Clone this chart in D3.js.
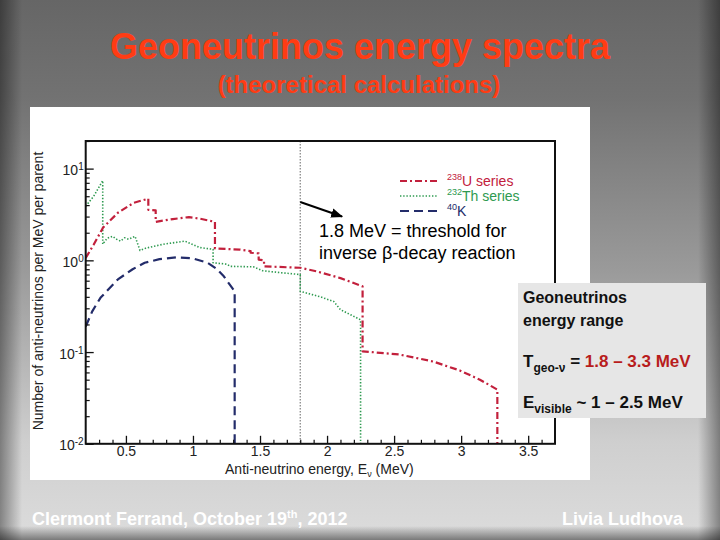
<!DOCTYPE html>
<html><head><meta charset="utf-8">
<script src="https://cdn.jsdelivr.net/npm/d3@7"></script>
<style>
body{margin:0;background:#888}
svg{display:block}
text{font-family:"Liberation Sans",Arial,Helvetica,sans-serif}
</style>
</head><body>
<svg id="c" width="720" height="540"></svg>
<script>
// ---------- data ----------
const uSeries = [
 [0.20,1.06],[0.26,1.49],[0.33,2.28],[0.44,3.3],[0.56,4.25],[0.667,4.7],
 [0.667,3.55],[0.722,3.5],[0.722,2.63],[0.85,2.82],[0.97,2.96],[1.05,2.85],[1.164,2.63],
 [1.164,1.35],[1.35,1.31],[1.43,1.26],[1.43,1.21],[1.49,1.19],[1.49,1.02],[1.53,1.0],[1.53,0.86],
 [1.8,0.83],[1.92,0.76],[2.1,0.64],[2.265,0.52],[2.265,0.102],[2.54,0.094],[2.79,0.079],
 [2.99,0.063],[3.14,0.05],[3.27,0.039],[3.27,0.01]
];
const thSeries = [
 [0.20,3.9],[0.26,5.0],[0.327,7.4],[0.327,1.5],[0.36,1.74],[0.40,1.83],[0.43,1.7],[0.46,1.62],
 [0.49,1.76],[0.52,1.7],[0.568,1.83],[0.605,1.28],[0.65,1.36],[0.78,1.5],[0.94,1.62],[1.05,1.38],
 [1.15,1.32],[1.15,0.94],[1.25,0.91],[1.28,0.86],[1.45,0.85],[1.52,0.77],[1.67,0.73],[1.8,0.70],
 [1.8,0.46],[1.95,0.40],[2.05,0.356],[2.1,0.29],[2.25,0.225],[2.25,0.01]
];
const kSeries = [
 [0.20,0.19],[0.25,0.28],[0.31,0.39],[0.44,0.62],[0.55,0.80],[0.64,0.94],[0.75,1.03],[0.88,1.08],
 [1.0,1.05],[1.11,0.94],[1.18,0.80],[1.23,0.67],[1.28,0.53],[1.311,0.46],[1.311,0.01]
];
const thresholdE = 1.8;
const xTicks = [0.5,1,1.5,2,2.5,3,3.5];
const xTickLabels = ["0.5","1","1.5","2","2.5","3","3.5"];
const yTicks = [0.01,0.1,1,10];
const yTickExp = ["-2","-1","0","1"];
const legendItems = [
 {sup:"238", name:"U series", key:"u"},
 {sup:"232", name:"Th series", key:"th"},
 {sup:"40", name:"K", key:"k"}
];

// ---------- styles ----------
const styles = {
 u:{stroke:"#c2203c", width:2.2, dash:"7,3,2,3", text:"#c2203c"},
 th:{stroke:"#2e9a50", width:1.6, dash:"1.4,1.8", text:"#2e9a50"},
 k:{stroke:"#232c6a", width:2.2, dash:"9,5", text:"#232c6a"}
};

const svg = d3.select("#c");
const defs = svg.append("defs");

// background gradients
const bg = defs.append("linearGradient").attr("id","bg").attr("x1",0).attr("y1",0).attr("x2",0).attr("y2",1);
[[0,"#666666"],[0.18,"#727272"],[0.5,"#9a9a9a"],[0.82,"#cfcfcf"],[1,"#dcdcdc"]]
 .forEach(s=>bg.append("stop").attr("offset",s[0]).attr("stop-color",s[1]));
const edgeL = defs.append("linearGradient").attr("id","edgeL").attr("x1",0).attr("x2",1).attr("y1",0).attr("y2",0);
edgeL.append("stop").attr("offset",0).attr("stop-color","#000").attr("stop-opacity",0.4);
edgeL.append("stop").attr("offset",1).attr("stop-color","#000").attr("stop-opacity",0);
const edgeR = defs.append("linearGradient").attr("id","edgeR").attr("x1",1).attr("x2",0).attr("y1",0).attr("y2",0);
edgeR.append("stop").attr("offset",0).attr("stop-color","#000").attr("stop-opacity",0.4);
edgeR.append("stop").attr("offset",1).attr("stop-color","#000").attr("stop-opacity",0);
const edgeB = defs.append("linearGradient").attr("id","edgeB").attr("x1",0).attr("x2",0).attr("y1",1).attr("y2",0);
edgeB.append("stop").attr("offset",0).attr("stop-color","#000").attr("stop-opacity",0.45);
edgeB.append("stop").attr("offset",1).attr("stop-color","#000").attr("stop-opacity",0);

svg.append("rect").attr("width",720).attr("height",540).attr("fill","url(#bg)");
svg.append("rect").attr("x",0).attr("y",0).attr("width",22).attr("height",540).attr("fill","url(#edgeL)");
svg.append("rect").attr("x",698).attr("y",0).attr("width",22).attr("height",540).attr("fill","url(#edgeR)");
svg.append("rect").attr("x",0).attr("y",526).attr("width",720).attr("height",14).attr("fill","url(#edgeB)");

// title
svg.append("text").attr("x",360).attr("y",59).attr("text-anchor","middle")
 .attr("font-size",36).attr("font-weight","bold").attr("fill","#ff3c14")
 .text("Geoneutrinos energy spectra");
svg.append("text").attr("x",359).attr("y",93).attr("text-anchor","middle")
 .attr("font-size",24).attr("font-weight","bold").attr("fill","#ff3c14")
 .text("(theoretical calculations)");

// white image panel
svg.append("rect").attr("x",30).attr("y",107).attr("width",560).attr("height",373).attr("fill","#ffffff");

// scales
const x = d3.scaleLinear().domain([0.2,3.7]).range([85.7,555]);
const y = d3.scaleLog().domain([0.01,20]).range([443.8,141]);
const [x0,x1] = x.range(); const [yb,yt] = y.range();

const plot = svg.append("g");
defs.append("clipPath").attr("id","clip").append("rect")
 .attr("x",x0).attr("y",yt).attr("width",x1-x0).attr("height",yb-yt+1);

// threshold dotted line
plot.append("line").attr("x1",x(thresholdE)).attr("x2",x(thresholdE)).attr("y1",yt).attr("y2",yb)
 .attr("stroke","#808080").attr("stroke-width",1.2).attr("stroke-dasharray","1.5,1.5");

// curves
const line = d3.line().x(d=>x(d[0])).y(d=>y(d[1]));
const curves = plot.append("g").attr("clip-path","url(#clip)");
[["k",kSeries],["th",thSeries],["u",uSeries]].forEach(([k,data])=>{
  curves.append("path").attr("d",line(data)).attr("fill","none")
   .attr("stroke",styles[k].stroke).attr("stroke-width",styles[k].width)
   .attr("stroke-dasharray",styles[k].dash).attr("stroke-linejoin","round");
});

// x axis
const xMinor = d3.range(3,37).map(v=>v/10).filter(v=>!xTicks.some(t=>Math.abs(t-v)<1e-6));
const xa = plot.append("g").attr("transform",`translate(0,${yb})`)
 .call(d3.axisBottom(x).tickValues(xTicks).tickSizeInner(-8).tickSizeOuter(0).tickPadding(2.5)
   .tickFormat((d,i)=>xTickLabels[i]));
xa.select(".domain").remove();
xa.selectAll("line").attr("stroke","#111").attr("stroke-width",1.3);
xa.selectAll("text").attr("font-size",14).attr("fill","#222").attr("font-family",null);
const xm = plot.append("g").attr("transform",`translate(0,${yb})`)
 .call(d3.axisBottom(x).tickValues(xMinor).tickSizeInner(-4).tickSizeOuter(0).tickFormat(""));
xm.select(".domain").remove();
xm.selectAll("line").attr("stroke","#111").attr("stroke-width",1.2);

// y axis
const yMinor = [];
yTicks.forEach(d=>{ for(let m=2;m<=9;m++){ const v=d*m; if(v<=20) yMinor.push(v);} });
const ya = plot.append("g").attr("transform",`translate(${x0},0)`)
 .call(d3.axisLeft(y).tickValues(yTicks).tickSizeInner(-8).tickSizeOuter(0).tickFormat(""));
ya.select(".domain").remove();
ya.selectAll("line").attr("stroke","#111").attr("stroke-width",1.3);
const ym = plot.append("g").attr("transform",`translate(${x0},0)`)
 .call(d3.axisLeft(y).tickValues(yMinor).tickSizeInner(-4).tickSizeOuter(0).tickFormat(""));
ym.select(".domain").remove();
ym.selectAll("line").attr("stroke","#111").attr("stroke-width",1.2);
yTicks.forEach((t,i)=>{
  const tx = plot.append("text").attr("x",x0-2).attr("y",y(t)+6.5).attr("text-anchor","end")
    .attr("font-size",14).attr("fill","#222");
  tx.append("tspan").text("10");
  tx.append("tspan").attr("font-size",10).attr("dy",-5).text(yTickExp[i]);
});

// frame
plot.append("rect").attr("x",x0).attr("y",yt).attr("width",x1-x0).attr("height",yb-yt)
 .attr("fill","none").attr("stroke","#111").attr("stroke-width",2);

// axis titles
const xl = plot.append("text").attr("x",(x0+x1)/2-1).attr("y",474).attr("text-anchor","middle")
 .attr("font-size",14).attr("fill","#222");
xl.append("tspan").text("Anti-neutrino energy, E");
xl.append("tspan").attr("font-size",9).attr("dy",3).text("ν");
xl.append("tspan").attr("dy",-3).text(" (MeV)");
plot.append("text").attr("transform","translate(43,291) rotate(-90)").attr("text-anchor","middle")
 .attr("font-size",14).attr("fill","#222").text("Number of anti-neutrinos per MeV per parent");

// legend
legendItems.forEach((it,i)=>{
  const ly = 181 + i*15;
  const st = styles[it.key];
  plot.append("line").attr("x1",400).attr("x2",437).attr("y1",ly).attr("y2",ly)
   .attr("stroke",st.stroke).attr("stroke-width",st.width).attr("stroke-dasharray",st.dash);
  const t = plot.append("text").attr("x",447).attr("y",ly+5).attr("font-size",14).attr("fill",st.text);
  t.append("tspan").attr("font-size",9).attr("dy",-6).text(it.sup);
  t.append("tspan").attr("dy",6).text(it.name);
});

// annotation
defs.append("marker").attr("id","arr").attr("viewBox","0 0 10 10").attr("refX",9).attr("refY",5)
 .attr("markerWidth",6).attr("markerHeight",6).attr("orient","auto")
 .append("path").attr("d","M0,1 L10,5 L0,9 Z").attr("fill","#000");
plot.append("line").attr("x1",x(thresholdE)).attr("y1",202).attr("x2",342).attr("y2",216.5)
 .attr("stroke","#000").attr("stroke-width",2).attr("marker-end","url(#arr)");
plot.append("text").attr("x",319).attr("y",237).attr("font-size",18).attr("fill","#000")
 .text("1.8 MeV = threshold for");
plot.append("text").attr("x",319).attr("y",259).attr("font-size",18).attr("fill","#000")
 .text("inverse β-decay reaction");

// info box
const box = svg.append("g");
box.append("rect").attr("x",518).attr("y",283).attr("width",188).attr("height",135).attr("fill","#e6e6e6");
box.append("text").attr("x",523).attr("y",303).attr("font-size",16).attr("font-weight","bold").attr("fill","#111").text("Geoneutrinos");
box.append("text").attr("x",523).attr("y",326).attr("font-size",16).attr("font-weight","bold").attr("fill","#111").text("energy range");
const t1 = box.append("text").attr("x",523).attr("y",367).attr("font-size",17).attr("font-weight","bold").attr("fill","#111");
t1.append("tspan").text("T");
t1.append("tspan").attr("font-size",12).attr("dy",5).text("geo-ν");
t1.append("tspan").attr("dy",-5).text(" = ");
t1.append("tspan").attr("fill","#b81c1c").text("1.8 – 3.3 MeV");
const t2 = box.append("text").attr("x",523).attr("y",408).attr("font-size",17).attr("font-weight","bold").attr("fill","#111");
t2.append("tspan").text("E");
t2.append("tspan").attr("font-size",12).attr("dy",5).text("visible");
t2.append("tspan").attr("dy",-5).text(" ~ 1 – 2.5 MeV");

// footer
const f = svg.append("text").attr("x",32).attr("y",525).attr("font-size",18).attr("font-weight","bold").attr("fill","#ffffff");
f.append("tspan").text("Clermont Ferrand, October 19");
f.append("tspan").attr("font-size",11).attr("dy",-7).text("th");
f.append("tspan").attr("dy",7).text(", 2012");
svg.append("text").attr("x",683).attr("y",525).attr("text-anchor","end").attr("font-size",18)
 .attr("font-weight","bold").attr("fill","#ffffff").text("Livia Ludhova");
</script>
</body></html>
